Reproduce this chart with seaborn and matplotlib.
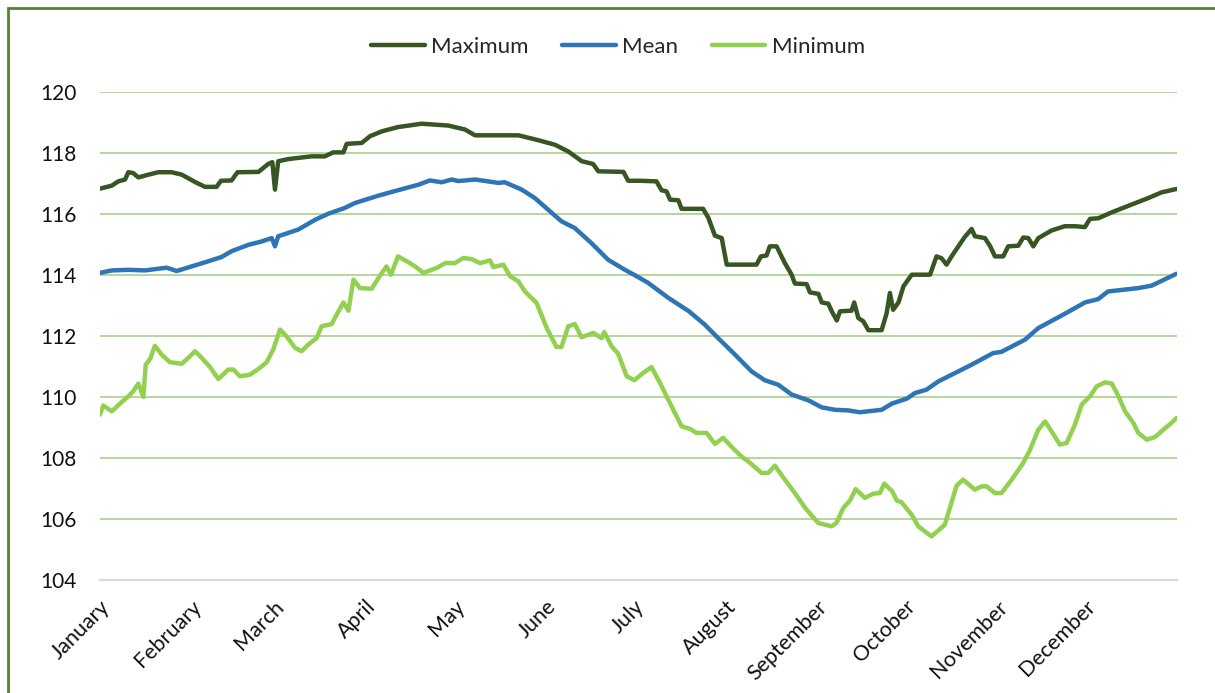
import pandas as pd
import seaborn as sns
import matplotlib.pyplot as plt
from matplotlib.patches import Rectangle

months = ["January", "February", "March", "April", "May", "June", "July",
          "August", "September", "October", "November", "December"]
month_start = [0, 31, 59, 90, 120, 151, 181, 212, 243, 273, 304, 334]

# values (day of year, level)
max_days = [0, 4, 6.2, 8.5, 9.6, 11.3, 13, 16.4, 19.8, 24.3, 27.7, 32.2, 35.6, 39.5, 41, 44.6,
            46.6, 53.7, 57, 58.4, 59.3, 60.4, 63.8, 67.2, 71.7, 76.2, 79, 82.5, 83.6, 88.7,
            91.5, 95.5, 101, 109, 118, 123.7, 127.1, 135, 141.8, 148.5, 154.2, 158.7, 163.3,
            167.1, 168.9, 177.4, 179, 183, 188.6, 190.3, 192, 193.2, 196, 197.1, 204.4, 206.2,
            208.4, 210.7, 212.4, 222.5, 224, 225.9, 227, 229.3, 232.1, 234.4, 235.5, 239.5,
            240.6, 243.5, 244.6, 246.8, 248, 249.7, 250.8, 254.7, 255.6, 257, 258.7, 260.4,
            264.9, 266.6, 267.7, 268.8, 270.6, 272.3, 275.1, 281.3, 283.5, 285.2, 286.9, 288.6,
            290.9, 293.1, 295.4, 296.5, 299.9, 301.7, 303.3, 306.1, 307.8, 311.2, 312.9, 314.6,
            316.3, 318, 322.5, 327, 330.4, 333.8, 335.5, 338.3, 342.8, 349.6, 355.2, 359.8, 364.8]
max_vals = [116.83, 116.93, 117.07, 117.13, 117.37, 117.34, 117.2, 117.29, 117.37, 117.37,
            117.29, 117.05, 116.89, 116.89, 117.09, 117.1, 117.37, 117.38, 117.64, 117.7,
            116.8, 117.73, 117.8, 117.84, 117.89, 117.89, 118.02, 118.02, 118.3, 118.33,
            118.55, 118.71, 118.85, 118.96, 118.9, 118.77, 118.58, 118.58, 118.58, 118.42,
            118.27, 118.05, 117.73, 117.64, 117.4, 117.38, 117.09, 117.09, 117.07, 116.78,
            116.74, 116.47, 116.45, 116.17, 116.17, 115.87, 115.29, 115.21, 114.34, 114.34,
            114.61, 114.64, 114.94, 114.94, 114.39, 114.01, 113.72, 113.7, 113.43, 113.38,
            113.1, 113.06, 112.81, 112.51, 112.81, 112.83, 113.1, 112.59, 112.48, 112.19,
            112.19, 112.75, 113.41, 112.86, 113.1, 113.63, 114.01, 114.01, 114.61, 114.55,
            114.34, 114.61, 114.94, 115.25, 115.51, 115.27, 115.21, 114.94, 114.61, 114.61,
            114.94, 114.96, 115.23, 115.21, 114.94, 115.21, 115.46, 115.6, 115.6, 115.57,
            115.84, 115.86, 116.05, 116.31, 116.52, 116.71, 116.82]

mean_days = [0, 4, 9.6, 15.2, 22.6, 26, 31, 36.7, 41.2, 44.6, 50.3, 54.8, 58.2, 59.3, 60.4,
             67.2, 72.9, 77.4, 83, 86.4, 91, 94.3, 101, 107.9, 111.8, 115.8, 119.2, 121.4,
             127.2, 135, 137.2, 142.9, 147.4, 151.9, 156.4, 160.9, 166.5, 172.2, 177.9, 181.5,
             185.8, 192.6, 199.6, 205, 209.5, 215.2, 220.8, 225.3, 229.9, 234.4, 240.1, 244.6,
             249.1, 253.6, 257.5, 264.9, 268.3, 273.5, 276.2, 280.1, 284.1, 290.9, 295.4,
             302.7, 305.5, 313.5, 318, 327, 333.8, 338.3, 341.6, 351.8, 356.4, 364.8]
mean_vals = [114.07, 114.15, 114.17, 114.15, 114.24, 114.13, 114.28, 114.45, 114.59, 114.78,
             114.99, 115.1, 115.21, 114.94, 115.27, 115.49, 115.81, 116.01, 116.2, 116.36,
             116.5, 116.6, 116.78, 116.96, 117.1, 117.04, 117.13, 117.08, 117.13, 117.02,
             117.04, 116.8, 116.52, 116.14, 115.76, 115.54, 115.05, 114.5, 114.17, 113.98,
             113.74, 113.25, 112.81, 112.37, 111.93, 111.39, 110.84, 110.55, 110.4, 110.08,
             109.89, 109.66, 109.58, 109.56, 109.5, 109.58, 109.78, 109.95, 110.13, 110.24,
             110.51, 110.84, 111.06, 111.44, 111.48, 111.88, 112.26, 112.73, 113.1, 113.21,
             113.46, 113.57, 113.65, 114.04]

min_days = [0, 1.1, 4, 7.3, 9.6, 11.3, 13, 14.7, 15.5, 17, 18.6, 20.9, 23.7, 27.7, 29.9, 32.2,
            34.5, 37.3, 40.1, 43.5, 45.2, 47.4, 50.8, 53.7, 56.5, 58.7, 61, 63.2, 66.1, 68.3,
            70.6, 73.4, 75.1, 78.5, 80.2, 82.5, 84.2, 85.9, 88.1, 92.1, 94.9, 97.1, 98.6, 101,
            104.5, 106.8, 109.6, 114.1, 117, 120.3, 123.1, 126, 128.8, 132.2, 133.3, 136.7,
            139, 141.8, 144, 148, 151.4, 154.7, 156.4, 158.7, 160.9, 163.2, 167.2, 170, 170.9,
            173.4, 175.6, 178.5, 181.1, 184.1, 186.9, 189.8, 192.6, 197.1, 200, 202.2, 205.6,
            208.4, 211.2, 214.1, 217.4, 220.3, 224.2, 226.5, 228.7, 232.1, 235.5, 239, 243.4,
            247.9, 249.6, 251.9, 254.2, 256.1, 259.2, 262.1, 264.3, 265.8, 268.5, 270, 271.6,
            275.1, 277.3, 281.8, 286.3, 290.3, 292.5, 296.5, 298.8, 300.5, 303.3, 305.5, 309,
            312.9, 315.2, 318, 320.3, 322.5, 325.3, 327.6, 330.4, 332.7, 335.5, 337.8, 340.6,
            342.9, 345.2, 347.4, 350.2, 351.9, 354.8, 357.6, 360.4, 363.1, 364.8]
min_vals = [109.42, 109.72, 109.53, 109.83, 110.02, 110.19, 110.44, 110.0, 111.06, 111.25,
            111.68, 111.39, 111.14, 111.09, 111.28, 111.5, 111.28, 110.98, 110.59, 110.9,
            110.9, 110.68, 110.73, 110.92, 111.14, 111.55, 112.21, 111.99, 111.61, 111.5,
            111.72, 111.93, 112.32, 112.39, 112.7, 113.1, 112.83, 113.85, 113.57, 113.55,
            113.98, 114.28, 114.01, 114.61, 114.42, 114.28, 114.07, 114.23, 114.39, 114.39,
            114.56, 114.52, 114.39, 114.48, 114.26, 114.34, 113.96, 113.79, 113.46, 113.08,
            112.26, 111.64, 111.64, 112.32, 112.39, 111.96, 112.1, 111.93, 112.13, 111.66,
            111.42, 110.68, 110.55, 110.79, 110.98, 110.46, 109.91, 109.04, 108.95, 108.82,
            108.82, 108.46, 108.66, 108.36, 108.05, 107.84, 107.51, 107.51, 107.75, 107.29,
            106.85, 106.36, 105.87, 105.76, 105.87, 106.36, 106.61, 106.98, 106.69, 106.83,
            106.85, 107.16, 106.91, 106.61, 106.55, 106.14, 105.76, 105.43, 105.81, 107.09,
            107.29, 106.96, 107.07, 107.07, 106.85, 106.85, 107.29, 107.84, 108.27, 108.93,
            109.2, 108.87, 108.44, 108.49, 109.09, 109.75, 110.02, 110.35, 110.48, 110.44,
            110.02, 109.53, 109.15, 108.82, 108.6, 108.69, 108.93, 109.15, 109.31]

df = pd.concat([
    pd.DataFrame({"day": max_days, "value": max_vals, "series": "Maximum"}),
    pd.DataFrame({"day": mean_days, "value": mean_vals, "series": "Mean"}),
    pd.DataFrame({"day": min_days, "value": min_vals, "series": "Minimum"}),
])
colors = {"Maximum": "#375623", "Mean": "#2e75b6", "Minimum": "#92d050"}

sns.set_theme(style="white")
plt.rcParams["font.family"] = ["Lato", "DejaVu Sans"]

fig = plt.figure(figsize=(12.15, 6.93), dpi=100)
ax = fig.add_axes([100 / 1215, 1 - 580 / 693, 1077 / 1215, 488 / 693])

sns.lineplot(data=df, x="day", y="value", hue="series", palette=colors,
             estimator=None, sort=False, lw=3.2, ax=ax,
             solid_capstyle="round", solid_joinstyle="round")

ax.set_xlim(0, 365)
ax.set_ylim(104, 120)
ax.set_yticks(range(104, 121, 2))
ax.set_xticks(month_start)
ax.set_xticklabels(months, rotation=45, ha="right", rotation_mode="anchor")
ax.set_xlabel("")
ax.set_ylabel("")
ax.tick_params(axis="y", length=0, pad=17, labelsize=15, colors="#111111")
ax.tick_params(axis="x", length=0, pad=12, labelsize=15.5, colors="#111111")

ax.yaxis.grid(True, color="#b4d79a", lw=1.4)
ax.set_axisbelow(True)
for side in ["top", "right", "left"]:
    ax.spines[side].set_visible(False)
ax.spines["bottom"].set_color("#d9d9d9")
ax.spines["bottom"].set_linewidth(1.6)

sns.move_legend(ax, "center", bbox_to_anchor=(0.481, 1.093), ncol=3, title=None,
                frameon=False, fontsize=16, handlelength=2.4, columnspacing=1.5,
                handletextpad=0.3)

# chart border (only top and left edges are in frame)
fig.add_artist(Rectangle((8 / 1215, -0.2), 2, 0.2 + 1 - 8 / 693, fill=False,
                         edgecolor="#548235", lw=2, transform=fig.transFigure))

fig.savefig("out.png", dpi=100)
